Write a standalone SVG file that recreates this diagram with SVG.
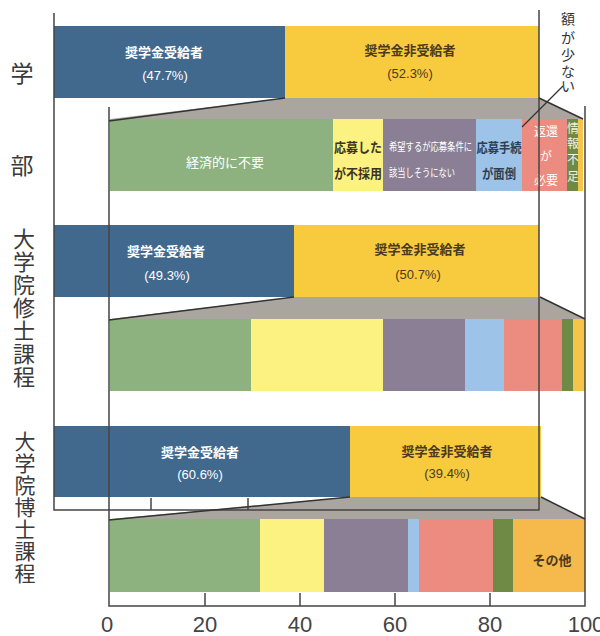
<svg xmlns="http://www.w3.org/2000/svg" width="600" height="636" viewBox="0 0 600 636">
<style>
.jp{font-family:"Noto Sans CJK JP","Noto Sans",sans-serif}
.lbl{font-family:"Noto Sans CJK JP",sans-serif;font-size:13px;font-weight:bold;text-anchor:middle}
.sm{font-size:12px}
.pct{font-family:"Liberation Sans","Noto Sans CJK JP",sans-serif;font-size:13px;text-anchor:middle}
.w{fill:#ffffff}
.d{fill:#4a3b1e}
.row{font-family:"Noto Sans CJK JP",sans-serif;font-size:22px;fill:#3a3a3a;text-anchor:middle}
.ax{font-family:"Liberation Sans",Arial,sans-serif;font-size:22px;fill:#444;text-anchor:middle}
.frame{fill:none;stroke:#444;stroke-width:1.5}
.edge{stroke:#333;stroke-width:1.5;fill:none}
.trap{fill:#aaa69f}
.blue{fill:#41698e}.yel{fill:#f8ca3e}
.g{fill:#8db27f}.py{fill:#fbf282}.pu{fill:#8a7f94}.lb{fill:#9dc3e8}.sa{fill:#ec8c80}.ol{fill:#6f8a45}.ey{fill:#f6c448}.or{fill:#f6b94c}
</style>

<!-- row labels -->
<g id="label-gakubu" class="row" style="font-size:23px">
<text x="22" y="82">学</text>
<text x="22" y="174">部</text>
</g>
<g id="label-shushi" class="row">
<text x="24" y="247">大</text>
<text x="24" y="270">学</text>
<text x="24" y="293">院</text>
<text x="24" y="316">修</text>
<text x="24" y="339">士</text>
<text x="24" y="362">課</text>
<text x="24" y="385">程</text>
</g>
<g id="label-hakushi" class="row" style="font-size:21px">
<text x="25" y="449">大</text>
<text x="25" y="471">学</text>
<text x="25" y="493">院</text>
<text x="25" y="515">博</text>
<text x="25" y="537">士</text>
<text x="25" y="559">課</text>
<text x="25" y="581">程</text>
</g>

<!-- trapezoids (background of zoom connectors) -->
<g id="zoom-fills">
<polygon class="trap" points="285,98 539,98 583,119 110,119"/>
<polygon class="trap" points="294,297 540,297 585,319 110,319"/>
<polygon class="trap" points="350,497 541,497 585,519 110,519"/>
</g>

<!-- Row 1: 学部 -->
<g id="r1-recipients">
<rect class="blue" x="54" y="26" width="231" height="72"/>
<text class="lbl w" x="164" y="57">奨学金受給者</text>
<text class="pct w" x="165" y="80">(47.7%)</text>
</g>
<g id="r1-nonrecipients">
<rect class="yel" x="285" y="26" width="254" height="72"/>
<text class="lbl d" x="410" y="55">奨学金非受給者</text>
<text class="pct d" x="410" y="78">(52.3%)</text>
</g>
<g id="r1-reasons">
<rect class="g" x="110" y="119" width="223" height="72"/>
<rect class="py" x="333" y="119" width="50" height="72"/>
<rect class="pu" x="383" y="119" width="93" height="72"/>
<rect class="lb" x="476" y="119" width="46" height="72"/>
<rect class="sa" x="522" y="119" width="45" height="72"/>
<rect class="ol" x="567" y="119" width="11" height="72"/>
<rect class="ey" x="578" y="119" width="5" height="72"/>
<text class="lbl w" x="225" y="167" style="font-weight:normal">経済的に不要</text>
<text class="lbl" x="358" y="152" fill="#3b3520" textLength="48" lengthAdjust="spacingAndGlyphs">応募した</text>
<text class="lbl" x="358" y="178" fill="#3b3520" textLength="48" lengthAdjust="spacingAndGlyphs">が不採用</text>
<text class="jp" x="389" y="151" font-size="11" fill="#ffffff" textLength="83" lengthAdjust="spacingAndGlyphs">希望するが応募条件に</text>
<text class="jp" x="389" y="177" font-size="11" fill="#ffffff" textLength="66" lengthAdjust="spacingAndGlyphs">該当しそうにない</text>
<text class="lbl" x="499" y="152" fill="#2d3e50" textLength="45" lengthAdjust="spacingAndGlyphs">応募手続</text>
<text class="lbl" x="499" y="178" fill="#2d3e50" textLength="34" lengthAdjust="spacingAndGlyphs">が面倒</text>
<text class="lbl w sm" x="546" y="136" style="font-weight:normal">返還</text>
<text class="lbl w sm" x="546" y="161" style="font-weight:normal">が</text>
<text class="lbl w sm" x="546" y="185" style="font-weight:normal">必要</text>
<text class="lbl sm" x="573" y="133" fill="#eef2e0" style="font-weight:normal">情</text>
<text class="lbl sm" x="573" y="148" fill="#eef2e0" style="font-weight:normal">報</text>
<text class="lbl sm" x="573" y="164" fill="#eef2e0" style="font-weight:normal">不</text>
<text class="lbl sm" x="573" y="181" fill="#eef2e0" style="font-weight:normal">足</text>
</g>
<g id="r1-callout" class="jp" font-size="14" fill="#333" text-anchor="middle">
<text x="568" y="24">額</text>
<text x="568" y="43">が</text>
<text x="568" y="60">少</text>
<text x="568" y="77">な</text>
<text x="568" y="91">い</text>
</g>

<!-- Row 2: 大学院修士課程 -->
<g id="r2-recipients">
<rect class="blue" x="54" y="225" width="240" height="72"/>
<text class="lbl w" x="166" y="256">奨学金受給者</text>
<text class="pct w" x="167" y="280">(49.3%)</text>
</g>
<g id="r2-nonrecipients">
<rect class="yel" x="294" y="225" width="245" height="72"/>
<text class="lbl d" x="420" y="254">奨学金非受給者</text>
<text class="pct d" x="418" y="279">(50.7%)</text>
</g>
<g id="r2-reasons">
<rect class="g" x="110" y="319" width="141" height="72"/>
<rect class="py" x="251" y="319" width="132" height="72"/>
<rect class="pu" x="383" y="319" width="82" height="72"/>
<rect class="lb" x="465" y="319" width="39" height="72"/>
<rect class="sa" x="504" y="319" width="58" height="72"/>
<rect class="ol" x="562" y="319" width="11" height="72"/>
<rect class="ey" x="573" y="319" width="12" height="72"/>
</g>

<!-- Row 3: 大学院博士課程 -->
<g id="r3-recipients">
<rect class="blue" x="54" y="426" width="296" height="71"/>
<text class="lbl w" x="200" y="457">奨学金受給者</text>
<text class="pct w" x="200" y="479">(60.6%)</text>
</g>
<g id="r3-nonrecipients">
<rect class="yel" x="350" y="426" width="191" height="71"/>
<text class="lbl d" x="447" y="456">奨学金非受給者</text>
<text class="pct d" x="447" y="478">(39.4%)</text>
</g>
<g id="r3-reasons">
<rect class="g" x="110" y="519" width="150" height="73"/>
<rect class="py" x="260" y="519" width="64" height="73"/>
<rect class="pu" x="324" y="519" width="84" height="73"/>
<rect class="lb" x="408" y="519" width="11" height="73"/>
<rect class="sa" x="419" y="519" width="74" height="73"/>
<rect class="ol" x="493" y="519" width="20" height="73"/>
<rect class="or" x="513" y="519" width="72" height="73"/>
<text class="lbl" x="552" y="565" fill="#4a3b1e">その他</text>
</g>

<!-- frames / axes -->
<g id="axes">
<polyline class="frame" points="54,13 54,510 539,510 539,10"/>
<line class="frame" x1="151" y1="510" x2="151" y2="498"/>
<line class="frame" x1="248" y1="510" x2="248" y2="498"/>
<polyline class="frame" points="109,107 109,606 585,606 585,106"/>
<line class="frame" x1="205" y1="606" x2="205" y2="593"/>
<line class="frame" x1="300" y1="606" x2="300" y2="593"/>
<line class="frame" x1="395" y1="606" x2="395" y2="593"/>
<line class="frame" x1="490" y1="606" x2="490" y2="593"/>
<text class="ax" x="107" y="632">0</text>
<text class="ax" x="205" y="632">20</text>
<text class="ax" x="300" y="632">40</text>
<text class="ax" x="395" y="632">60</text>
<text class="ax" x="490" y="632">80</text>
<text class="ax" x="586" y="632">100</text>
</g>

<!-- connectors -->
<g id="connectors">
<line class="edge" x1="285" y1="98" x2="109" y2="121"/>
<line class="edge" x1="539" y1="98" x2="583" y2="119"/>
<line class="edge" x1="294" y1="297" x2="109" y2="320"/>
<line class="edge" x1="540" y1="297" x2="585" y2="319"/>
<line class="edge" x1="350" y1="497" x2="109" y2="520"/>
<line class="edge" x1="541" y1="497" x2="585" y2="519"/>
<line class="edge" x1="563" y1="86" x2="522" y2="127" style="stroke-width:1.2"/>
</g>
</svg>
